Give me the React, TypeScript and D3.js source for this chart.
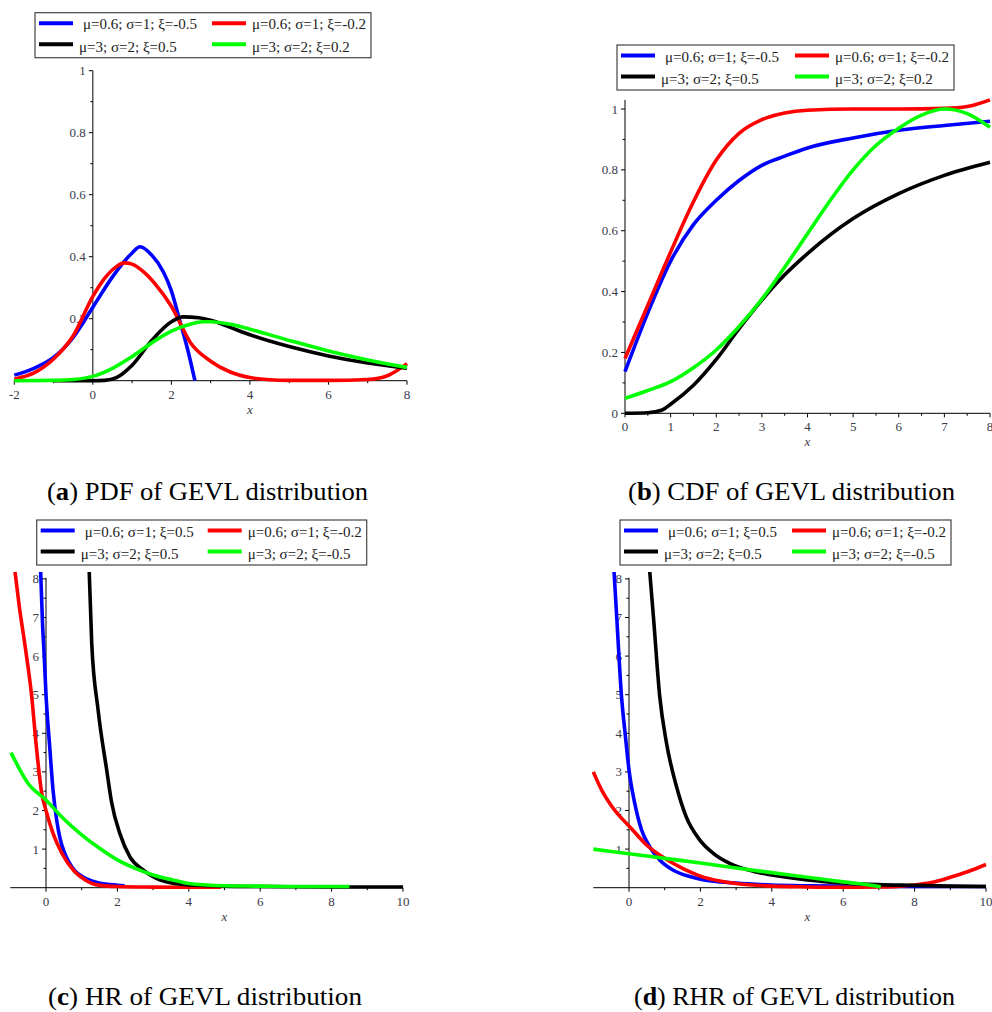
import * as d3 from "d3";

const BLUE = "#0000ff";
const RED = "#ff0000";
const BLACK = "#000000";
const GREEN = "#00ff00";
const TICK_COLOR = "#3a3a4a";
const SERIF = "'Liberation Serif', 'Times New Roman', serif";

// legend labels
const legendPdfCdf = ["μ=0.6; σ=1; ξ=-0.5", "μ=0.6; σ=1; ξ=-0.2", "μ=3; σ=2; ξ=0.5", "μ=3; σ=2; ξ=0.2"];
const legendHrRhr = ["μ=0.6; σ=1; ξ=0.5", "μ=0.6; σ=1; ξ=-0.2", "μ=3; σ=2; ξ=0.5", "μ=3; σ=2; ξ=-0.5"];

// (a) PDF — [x, f(x)]
const pdfBlue: [number, number][] = [[-2, 0.018], [-1.5, 0.04], [-1, 0.075], [-0.5, 0.14], [0, 0.237], [0.5, 0.335], [1, 0.412], [1.2, 0.432], [1.5, 0.405], [1.8, 0.35], [2, 0.29], [2.2, 0.2], [2.4, 0.108], [2.6, 0]];
const pdfRed: [number, number][] = [[-2, 0.005], [-1.5, 0.025], [-1, 0.07], [-0.5, 0.145], [0, 0.272], [0.3, 0.33], [0.6, 0.368], [0.8, 0.38], [1, 0.376], [1.3, 0.35], [1.6, 0.31], [2, 0.24], [2.5, 0.12], [3, 0.063], [3.5, 0.028], [4, 0.01], [4.5, 0.003], [5, 0.001], [6, 0.001], [7, 0.004], [7.5, 0.016], [8, 0.055]];
const pdfBlack: [number, number][] = [[-1, 0], [0, 0], [0.3, 0.001], [0.6, 0.01], [1, 0.05], [1.5, 0.13], [2, 0.19], [2.3, 0.206], [2.7, 0.203], [3, 0.195], [3.5, 0.172], [4, 0.148], [5, 0.11], [6, 0.08], [7, 0.057], [8, 0.04]];
const pdfGreen: [number, number][] = [[-2, 0], [-1, 0.001], [-0.5, 0.004], [0, 0.014], [0.5, 0.04], [1, 0.078], [1.5, 0.122], [2, 0.16], [2.5, 0.183], [2.8, 0.19], [3, 0.19], [3.5, 0.182], [4, 0.166], [5, 0.13], [6, 0.096], [7, 0.067], [8, 0.043]];

// (b) CDF
const cdfBlue: [number, number][] = [[0, 0.137], [0.5, 0.33], [1, 0.5], [1.5, 0.62], [2, 0.7], [2.5, 0.765], [3, 0.815], [3.5, 0.845], [4, 0.872], [5, 0.905], [6, 0.93], [7, 0.946], [8, 0.96]];
const cdfRed: [number, number][] = [[0, 0.18], [0.5, 0.355], [1, 0.53], [1.5, 0.695], [2, 0.832], [2.5, 0.92], [3, 0.965], [3.5, 0.987], [4, 0.996], [5, 1.0], [6, 1.0], [7, 1.002], [7.5, 1.008], [8, 1.03]];
const cdfBlack: [number, number][] = [[0, 0], [0.5, 0.002], [0.8, 0.01], [1, 0.03], [1.5, 0.092], [2, 0.177], [2.5, 0.278], [3, 0.372], [3.5, 0.455], [4, 0.525], [5, 0.64], [6, 0.722], [7, 0.782], [8, 0.825]];
const cdfGreen: [number, number][] = [[0, 0.049], [0.5, 0.075], [1, 0.104], [1.5, 0.15], [2, 0.208], [2.5, 0.285], [3, 0.375], [3.5, 0.48], [4, 0.59], [4.5, 0.7], [5, 0.8], [5.5, 0.88], [6, 0.937], [6.5, 0.98], [7, 1.0], [7.5, 0.985], [8, 0.94]];

// (c) HR
const hrBlue: [number, number][] = [[-0.15, 8.2], [-0.1, 6.9], [-0.05, 6.0], [0, 5.0], [0.1, 3.7], [0.2, 2.5], [0.3, 1.75], [0.4, 1.25], [0.5, 0.95], [0.65, 0.65], [0.8, 0.45], [1, 0.3], [1.3, 0.17], [1.8, 0.08], [2.2, 0.05]];
const hrRed: [number, number][] = [[-0.87, 8.2], [-0.75, 7.3], [-0.6, 6.35], [-0.4, 4.95], [-0.28, 3.75], [-0.12, 2.45], [0, 2.0], [0.2, 1.4], [0.44, 0.9], [0.8, 0.42], [1.1, 0.2], [1.4, 0.08], [2, 0.03], [3, 0.015], [4, 0.01], [4.9, 0.01]];
const hrBlack: [number, number][] = [[1.21, 8.2], [1.28, 6.35], [1.46, 4.6], [1.7, 3.05], [1.84, 2.2], [2.07, 1.4], [2.35, 0.8], [2.72, 0.46], [3.2, 0.2], [4, 0.07], [5, 0.04], [6, 0.03], [8, 0.02], [10, 0.02]];
const hrGreen: [number, number][] = [[-0.98, 3.5], [-0.5, 2.7], [0, 2.27], [0.5, 1.78], [1, 1.37], [1.5, 1.02], [2, 0.72], [2.5, 0.5], [3, 0.33], [3.5, 0.21], [4, 0.11], [4.5, 0.07], [5, 0.05], [6, 0.04], [7, 0.03], [8, 0.03], [8.5, 0.03]];

// (d) RHR
const rhrBlue: [number, number][] = [[-0.42, 8.2], [-0.34, 6.95], [-0.21, 4.96], [-0.1, 3.92], [0, 3.05], [0.16, 2.19], [0.35, 1.5], [0.58, 1.06], [0.86, 0.72], [1.23, 0.46], [1.7, 0.29], [2, 0.22], [3, 0.12], [4, 0.07], [5, 0.05], [6, 0.04], [8, 0.03], [10, 0.03]];
const rhrRed: [number, number][] = [[-1, 3.0], [-0.75, 2.5], [-0.5, 2.13], [-0.25, 1.84], [0, 1.6], [0.5, 1.1], [1, 0.76], [1.5, 0.5], [2, 0.3], [2.5, 0.18], [3, 0.11], [4, 0.04], [5, 0.02], [6, 0.01], [7, 0.02], [7.5, 0.035], [8, 0.07], [8.5, 0.14], [9, 0.27], [9.5, 0.42], [10, 0.6]];
const rhrBlack: [number, number][] = [[0.58, 8.2], [0.69, 6.95], [0.86, 4.96], [1.05, 3.75], [1.33, 2.62], [1.6, 1.84], [1.98, 1.24], [2.36, 0.89], [2.82, 0.63], [3.5, 0.42], [4, 0.33], [5, 0.2], [6, 0.12], [7, 0.08], [8, 0.06], [9, 0.04], [10, 0.03]];
const rhrGreen: [number, number][] = [[-1, 1.0], [0, 0.88], [1, 0.76], [2, 0.64], [3, 0.51], [4, 0.39], [5, 0.27], [6, 0.15], [7, 0.03], [7.05, 0.02]];

// ticks
const pdfXTicks = [-2, 0, 2, 4, 6, 8];
const pdfXMinor = [-1, 1, 3, 5, 7];
const pdfYTicks = [0.2, 0.4, 0.6, 0.8, 1];
const pdfYMinor = [0.1, 0.3, 0.5, 0.7, 0.9];
const cdfXTicks = [0, 1, 2, 3, 4, 5, 6, 7, 8];
const cdfXMinor = [0.5, 1.5, 2.5, 3.5, 4.5, 5.5, 6.5, 7.5];
const cdfYTicks = [0, 0.2, 0.4, 0.6, 0.8, 1];
const cdfYMinor = [0.1, 0.3, 0.5, 0.7, 0.9];
const hrXTicks = [0, 2, 4, 6, 8, 10];
const hrXMinor = [1, 3, 5, 7, 9];
const hrYTicks = [1, 2, 3, 4, 5, 6, 7, 8];
const hrYMinor = [0.5, 1.5, 2.5, 3.5, 4.5, 5.5, 6.5, 7.5];

type PanelCfg = {
  id: string;
  xDomain: [number, number];
  xRange: [number, number];
  yDomain: [number, number];
  yRange: [number, number];
  yAxisTop: number;
  clipTop: number;
  xTicks: number[];
  xMinor: number[];
  yTicks: number[];
  yMinor: number[];
  xLabelAt: number;
  legend: { x: number; y: number; w: number; col2: number; labels: string[] };
  series: { data: [number, number][]; color: string }[];
  caption: { x: number; y: number; w: number; letter: string; text: string };
};

const panels: PanelCfg[] = [
  {
    id: "a", xDomain: [-2, 8], xRange: [14.3, 407], yDomain: [0, 1], yRange: [380.7, 70.7],
    yAxisTop: 1, clipTop: 1.02, xTicks: pdfXTicks, xMinor: pdfXMinor, yTicks: pdfYTicks, yMinor: pdfYMinor,
    xLabelAt: 4,
    legend: { x: 35, y: 12.7, w: 336, col2: 173, labels: legendPdfCdf },
    series: [{ data: pdfBlue, color: BLUE }, { data: pdfRed, color: RED }, { data: pdfBlack, color: BLACK }, { data: pdfGreen, color: GREEN }],
    caption: { x: 47, y: 500, w: 321, letter: "a", text: " PDF of GEVL distribution" },
  },
  {
    id: "b", xDomain: [0, 8], xRange: [625, 990], yDomain: [0, 1], yRange: [413.3, 109],
    yAxisTop: 1.03, clipTop: 1.04, xTicks: cdfXTicks, xMinor: cdfXMinor, yTicks: cdfYTicks, yMinor: cdfYMinor,
    xLabelAt: 4,
    legend: { x: 617, y: 45, w: 337, col2: 174, labels: legendPdfCdf },
    series: [{ data: cdfBlue, color: BLUE }, { data: cdfRed, color: RED }, { data: cdfBlack, color: BLACK }, { data: cdfGreen, color: GREEN }],
    caption: { x: 628, y: 500, w: 327, letter: "b", text: " CDF of GEVL distribution" },
  },
  {
    id: "c", xDomain: [-1, 10], xRange: [10.3, 403], yDomain: [0, 8], yRange: [887.7, 578.9],
    yAxisTop: 8.03, clipTop: 8.18, xTicks: hrXTicks, xMinor: hrXMinor, yTicks: hrYTicks, yMinor: hrYMinor,
    xLabelAt: 5,
    legend: { x: 36.7, y: 520, w: 330, col2: 167, labels: legendHrRhr },
    series: [{ data: hrBlue, color: BLUE }, { data: hrRed, color: RED }, { data: hrBlack, color: BLACK }, { data: hrGreen, color: GREEN }],
    caption: { x: 48, y: 1005, w: 314, letter: "c", text: " HR of GEVL distribution" },
  },
  {
    id: "d", xDomain: [-1, 10], xRange: [593.3, 986], yDomain: [0, 8], yRange: [887.7, 578.9],
    yAxisTop: 8.03, clipTop: 8.18, xTicks: hrXTicks, xMinor: hrXMinor, yTicks: hrYTicks, yMinor: hrYMinor,
    xLabelAt: 5,
    legend: { x: 620, y: 520, w: 331, col2: 168, labels: legendHrRhr },
    series: [{ data: rhrBlue, color: BLUE }, { data: rhrRed, color: RED }, { data: rhrBlack, color: BLACK }, { data: rhrGreen, color: GREEN }],
    caption: { x: 634, y: 1005, w: 321, letter: "d", text: " RHR of GEVL distribution" },
  },
];

const legendColors = [BLUE, RED, BLACK, GREEN];

function Panel({ cfg }: { cfg: PanelCfg }) {
  const x = d3.scaleLinear().domain(cfg.xDomain).range(cfg.xRange);
  const y = d3.scaleLinear().domain(cfg.yDomain).range(cfg.yRange);
  const line = d3.line<[number, number]>()
    .x((d) => x(d[0]))
    .y((d) => y(d[1]))
    .curve(d3.curveMonotoneX);

  const x0 = x(0);
  const y0 = y(0);
  const clipId = `clip-${cfg.id}`;
  const fmt = (v: number) => String(v);
  const { legend } = cfg;

  return (
    <g>
      <defs>
        <clipPath id={clipId}>
          <rect x={cfg.xRange[0] - 2} y={y(cfg.clipTop)} width={cfg.xRange[1] - cfg.xRange[0] + 4} height={y0 - y(cfg.clipTop) + 3} />
        </clipPath>
      </defs>

      {/* axes */}
      <line x1={cfg.xRange[0]} x2={cfg.xRange[1]} y1={y0} y2={y0} stroke="#000" strokeWidth={1} />
      <line x1={x0} x2={x0} y1={y0} y2={y(cfg.yAxisTop)} stroke="#000" strokeWidth={1} />

      {cfg.xTicks.map((t) => (
        <g key={`xt-${t}`}>
          <line x1={x(t)} x2={x(t)} y1={y0} y2={y0 + 4} stroke="#000" strokeWidth={1} />
          <text x={x(t)} y={y0 + 18} textAnchor="middle" fontSize={13} fill={TICK_COLOR} fontFamily={SERIF}>{fmt(t)}</text>
        </g>
      ))}
      {cfg.xMinor.map((t) => (
        <line key={`xm-${t}`} x1={x(t)} x2={x(t)} y1={y0} y2={y0 + 2.5} stroke="#000" strokeWidth={1} />
      ))}
      {cfg.yTicks.map((t) => (
        <g key={`yt-${t}`}>
          <line x1={x0 - 4} x2={x0} y1={y(t)} y2={y(t)} stroke="#000" strokeWidth={1} />
          <text x={x0 - 7} y={y(t)} dy="0.35em" textAnchor="end" fontSize={13} fill={TICK_COLOR} fontFamily={SERIF}>{fmt(t)}</text>
        </g>
      ))}
      {cfg.yMinor.map((t) => (
        <line key={`ym-${t}`} x1={x0 - 2.5} x2={x0} y1={y(t)} y2={y(t)} stroke="#000" strokeWidth={1} />
      ))}

      <text x={x(cfg.xLabelAt)} y={y0 + 33} textAnchor="middle" fontSize={13} fontStyle="italic" fill={TICK_COLOR} fontFamily={SERIF}>x</text>

      {/* curves */}
      <g clipPath={`url(#${clipId})`}>
        {cfg.series.map((s, i) => (
          <path key={i} d={line(s.data) || ""} fill="none" stroke={s.color} strokeWidth={3.6} strokeLinejoin="round" />
        ))}
      </g>

      {/* legend */}
      <rect x={legend.x} y={legend.y} width={legend.w} height={45} fill="#fff" stroke="#444" strokeWidth={1.2} />
      {legend.labels.map((lab, i) => {
        const col = i % 2;
        const row = Math.floor(i / 2);
        const lx = legend.x + 4 + col * legend.col2;
        return (
          <g key={lab + i}>
            <line x1={lx} x2={lx + 34} y1={legend.y + 10.6 + row * 21} y2={legend.y + 10.6 + row * 21} stroke={legendColors[i]} strokeWidth={4} />
            <text x={lx + (i === 0 ? 44 : 40)} y={legend.y + 16.5 + row * 22.5} fontSize={15} fill="#222" fontFamily={SERIF}>{lab}</text>
          </g>
        );
      })}

      {/* caption */}
      <text x={cfg.caption.x} y={cfg.caption.y} fontSize={25} fill="#000" fontFamily={SERIF}
        textLength={cfg.caption.w} lengthAdjust="spacingAndGlyphs">
        (<tspan fontWeight="bold">{cfg.caption.letter}</tspan>){cfg.caption.text}
      </text>
    </g>
  );
}

export default function App() {
  return (
    <svg width={992} height={1012} viewBox="0 0 992 1012"
      style={{ position: "absolute", left: 0, top: 0, display: "block", background: "#fff" }}>
      {panels.map((p) => <Panel key={p.id} cfg={p} />)}
    </svg>
  );
}
